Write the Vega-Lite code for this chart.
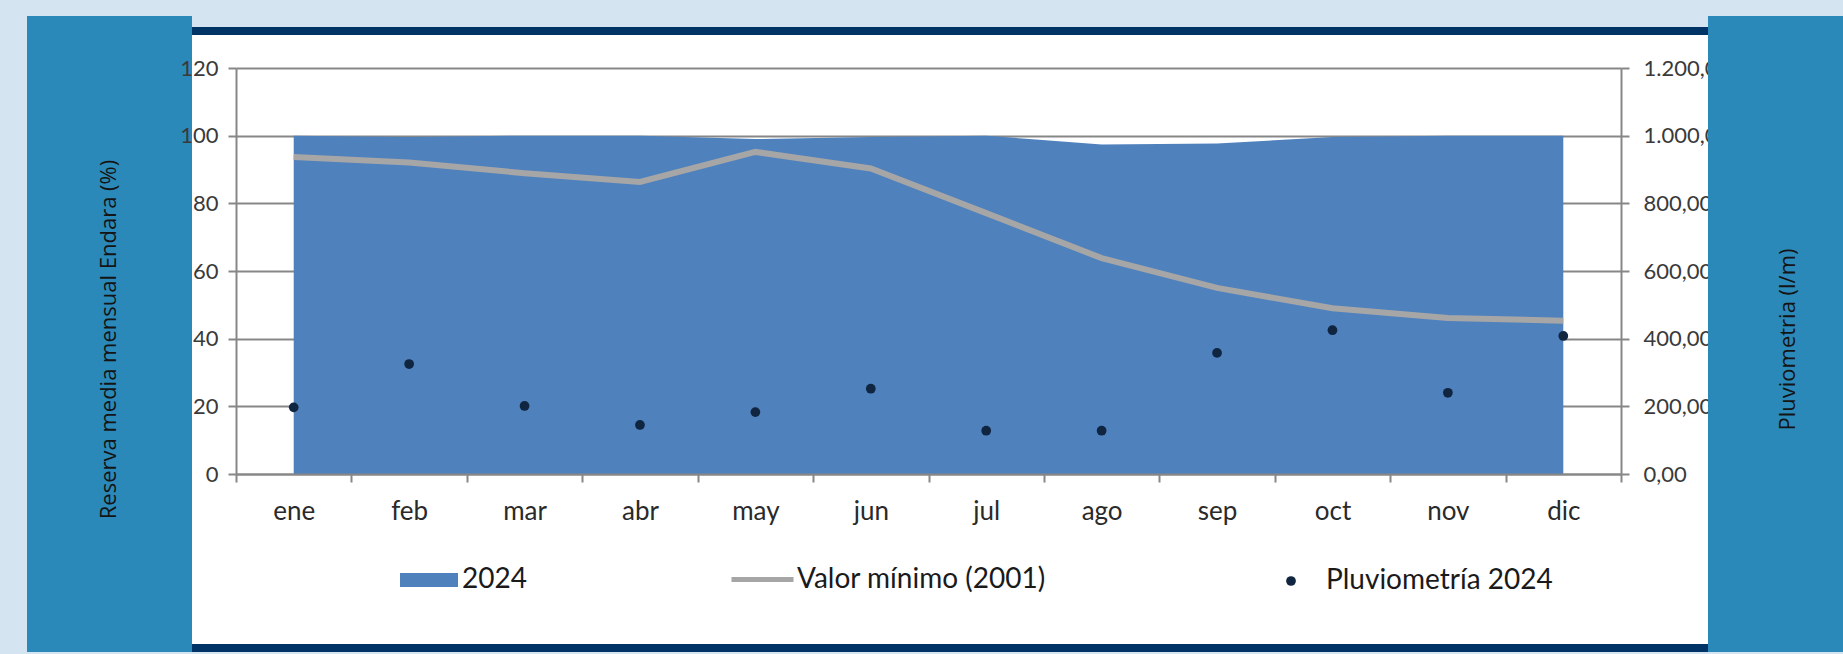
{
  "$schema": "https://vega.github.io/schema/vega-lite/v6.json",
  "background": "#D4E4F1",
  "padding": {"left": 27, "top": 16, "right": 0, "bottom": 2},
  "datasets": {
    "d": [
      {"mes": "ene", "reserva": 100, "minimo": 93.7, "pluvio": 197},
      {"mes": "feb", "reserva": 99.6, "minimo": 92.1, "pluvio": 325},
      {"mes": "mar", "reserva": 100, "minimo": 88.9, "pluvio": 201},
      {"mes": "abr", "reserva": 100, "minimo": 86.3, "pluvio": 145},
      {"mes": "may", "reserva": 99.0, "minimo": 95.2, "pluvio": 183},
      {"mes": "jun", "reserva": 99.6, "minimo": 90.3, "pluvio": 252},
      {"mes": "jul", "reserva": 100, "minimo": 77.1, "pluvio": 128},
      {"mes": "ago", "reserva": 97.4, "minimo": 63.8, "pluvio": 128},
      {"mes": "sep", "reserva": 97.7, "minimo": 55.0, "pluvio": 358},
      {"mes": "oct", "reserva": 99.6, "minimo": 49.0, "pluvio": 425},
      {"mes": "nov", "reserva": 100, "minimo": 46.1, "pluvio": 240},
      {"mes": "dic", "reserva": 100, "minimo": 45.3, "pluvio": 408}
    ]
  },
  "columns": 3,
  "spacing": 0,
  "bounds": "flush",
  "concat": [
    {"width": 165, "height": 11, "data": {"values": []}, "mark": "text", "view": {"fill": "#2B89B9", "stroke": null}},
    {"width": 1516, "height": 11, "data": {"values": []}, "mark": "text", "view": {"stroke": null}},
    {"width": 135, "height": 11, "data": {"values": []}, "mark": "text", "view": {"fill": "#2B89B9", "stroke": null}},

    {"width": 165, "height": 8, "data": {"values": []}, "mark": "text", "view": {"fill": "#2B89B9", "stroke": null}},
    {"width": 1516, "height": 8, "data": {"values": []}, "mark": "text", "view": {"fill": "#003466", "stroke": null}},
    {"width": 135, "height": 8, "data": {"values": []}, "mark": "text", "view": {"fill": "#2B89B9", "stroke": null}},

    {"width": 165, "height": 609, "data": {"values": []}, "mark": "text", "view": {"fill": "#2B89B9", "stroke": null},
     "title": {"text": "Reserva media mensual Endara (%)", "orient": "left", "anchor": "middle", "frame": "group", "offset": -104, "baseline": "middle", "font": "Open Sans", "fontSize": 22, "fontWeight": "normal", "color": "#141414"}},
    {
      "width": 1516,
      "height": 609,
      "view": {"fill": "white", "stroke": null},
      "data": {"name": "d"},
      "encoding": {
        "x": {
          "field": "mes", "type": "ordinal", "sort": null, "title": null,
          "scale": {"type": "band", "domain": ["ene","feb","mar","abr","may","jun","jul","ago","sep","oct","nov","dic"], "range": [44, 1429], "paddingInner": 0, "paddingOuter": 0},
          "axis": {"orient": "bottom", "offset": -170, "tickBand": "extent", "tickSize": 8, "tickWidth": 2, "tickColor": "#878787", "domainColor": "#878787", "domainWidth": 2, "labelAngle": 0, "labelPadding": 16, "labelFont": "Lato", "labelFontSize": 26, "labelColor": "#2a2a2a", "grid": false, "zindex": 1}
        }
      },
      "layer": [
        {
          "mark": {"type": "area", "opacity": 1},
          "encoding": {
            "y": {"field": "reserva", "type": "quantitative", "title": null,
              "scale": {"domain": [0, 120], "range": [439, 33], "nice": false, "zero": true},
              "axis": {"orient": "left", "offset": -44, "values": [0, 20, 40, 60, 80, 100, 120], "grid": true, "gridColor": "#878787", "gridWidth": 1.8, "domainColor": "#878787", "domainWidth": 2, "tickColor": "#878787", "tickWidth": 2, "tickSize": 8, "labelFont": "Lato", "labelFontSize": 22, "labelColor": "#3a3a3a", "labelPadding": 10, "labelFlush": false, "labelOverlap": false}},
            "fill": {"datum": "2024", "scale": {"range": ["#4F81BD"]},
              "legend": {"orient": "none", "legendX": 373, "legendY": 535, "title": null, "padding": 0, "symbolType": "M-1,-0.24H1V0.24H-1Z", "symbolSize": 3364, "symbolStrokeWidth": 0, "symbolOpacity": 1, "labelFont": "Lato", "labelFontSize": 28, "labelColor": "#1a1a1a", "labelOffset": 4, "labelLimit": 0}}
          }
        },
        {
          "mark": {"type": "line", "strokeWidth": 6},
          "encoding": {
            "y": {"field": "minimo", "type": "quantitative", "title": null,
              "scale": {"domain": [0, 120], "range": [439, 33], "nice": false, "zero": true},
              "axis": null},
            "stroke": {"datum": "Valor mínimo (2001)", "scale": {"range": ["#A6A6A6"]},
              "legend": {"orient": "none", "legendX": 702, "legendY": 530, "title": null, "padding": 0, "symbolType": "stroke", "symbolSize": 3844, "symbolStrokeWidth": 5, "symbolOpacity": 1, "labelFont": "Lato", "labelFontSize": 28, "labelColor": "#1a1a1a", "labelOffset": 1, "labelLimit": 0}}
          }
        },
        {
          "mark": {"type": "point", "filled": true, "size": 95, "color": "#0F2540", "opacity": 1},
          "encoding": {
            "y": {"field": "pluvio", "type": "quantitative", "title": null,
              "scale": {"domain": [0, 1200], "range": [439, 33], "nice": false},
              "axis": {"orient": "right", "offset": -87, "values": [0, 200, 400, 600, 800, 1000, 1200], "format": ",.2f", "grid": false, "domainColor": "#878787", "domainWidth": 2, "tickColor": "#878787", "tickWidth": 2, "tickSize": 8, "labelFont": "Lato", "labelFontSize": 22, "labelColor": "#3a3a3a", "labelPadding": 14, "labelFlush": false, "labelOverlap": false}},
            "shape": {"datum": "Pluviometría 2024", "scale": {"range": ["circle"]},
              "legend": {"orient": "none", "legendX": 1250, "legendY": 551, "title": null, "padding": 0, "symbolSize": 95, "symbolFillColor": "#0F2540", "symbolStrokeWidth": 0, "symbolOpacity": 1, "labelFont": "Lato", "labelFontSize": 28, "labelColor": "#1a1a1a", "labelOffset": 21, "labelLimit": 0}}
          }
        }
      ],
      "resolve": {"scale": {"y": "independent"}}
    },
    {"width": 135, "height": 609, "data": {"values": []}, "mark": "text", "view": {"fill": "#2B89B9", "stroke": null},
     "title": {"text": "Pluviometria (l/m)", "orient": "left", "anchor": "middle", "frame": "group", "offset": -102, "baseline": "middle", "font": "Open Sans", "fontSize": 22, "fontWeight": "normal", "color": "#141414"}},

    {"width": 165, "height": 8, "data": {"values": []}, "mark": "text", "view": {"fill": "#2B89B9", "stroke": null}},
    {"width": 1516, "height": 8, "data": {"values": []}, "mark": "text", "view": {"fill": "#003466", "stroke": null}},
    {"width": 135, "height": 8, "data": {"values": []}, "mark": "text", "view": {"fill": "#2B89B9", "stroke": null}}
  ],
  "config": {
    "view": {"stroke": null},
    "font": "Lato",
    "locale": {"number": {"decimal": ",", "thousands": ".", "grouping": [3], "currency": ["", " €"]}}
  }
}
